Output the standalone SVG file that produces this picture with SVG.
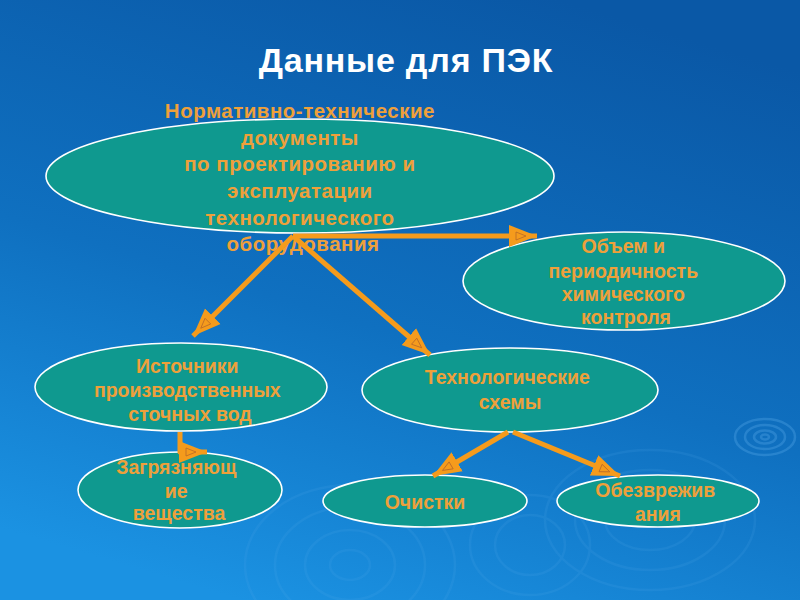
<svg xmlns="http://www.w3.org/2000/svg" width="800" height="600" viewBox="0 0 800 600">
  <defs>
    <linearGradient id="bg" x1="0.7" y1="0" x2="0.3" y2="1">
      <stop offset="0" stop-color="#0a58a6"/>
      <stop offset="0.55" stop-color="#0f70c0"/>
      <stop offset="1" stop-color="#1b92e2"/>
    </linearGradient>
    <marker id="ah" markerUnits="userSpaceOnUse" markerWidth="30" markerHeight="24" viewBox="0 0 30 24" refX="28" refY="12" orient="auto">
      <path d="M0,1 L28,12 L0,23 z" fill="#f59b1c"/>
      <path d="M7,8 L17,12 L7,16 z" fill="none" stroke="#b86a28" stroke-width="0.8"/>
    </marker>
    <style>
      .node ellipse { fill: #0f998f; stroke: #ffffff; stroke-width: 1.6; }
      .node text { font-family: "Liberation Sans", Arial, sans-serif; font-weight: bold; font-size: 19.5px; fill: #eea03a; text-anchor: middle; }
      .conn path { fill: none; stroke: #f59b1c; stroke-width: 5; stroke-linejoin: round; marker-end: url(#ah); }
      .rip { fill: none; stroke: #5fb0ee; stroke-width: 2.5; }
      .title { font-family: "Liberation Sans", Arial, sans-serif; font-weight: bold; font-size: 34px; letter-spacing: 0.8px; text-anchor: middle; fill: #ffffff; }
    </style>
  </defs>

  <rect x="0" y="0" width="800" height="600" fill="url(#bg)"/>

  <g id="ripples">
    <g class="rip" opacity="0.3">
      <ellipse cx="765" cy="437" rx="30" ry="18"/>
      <ellipse cx="765" cy="437" rx="20" ry="12"/>
      <ellipse cx="765" cy="437" rx="11" ry="6.5"/>
      <ellipse cx="765" cy="437" rx="4" ry="2.5"/>
    </g>
    <g class="rip" opacity="0.12">
      <ellipse cx="350" cy="565" rx="105" ry="80"/>
      <ellipse cx="350" cy="565" rx="75" ry="58"/>
      <ellipse cx="350" cy="565" rx="45" ry="35"/>
      <ellipse cx="350" cy="565" rx="20" ry="15"/>
      <ellipse cx="530" cy="545" rx="60" ry="50"/>
      <ellipse cx="530" cy="545" rx="35" ry="30"/>
      <ellipse cx="650" cy="520" rx="105" ry="70"/>
      <ellipse cx="650" cy="520" rx="75" ry="50"/>
      <ellipse cx="650" cy="520" rx="45" ry="30"/>
    </g>
  </g>

  <text class="title" x="406" y="72">Данные для ПЭК</text>

  <g id="n-normdocs" class="node">
    <ellipse cx="300" cy="176" rx="254" ry="57"/>
    <text style="font-size:20.5px;letter-spacing:0.5px">
      <tspan x="303" y="118">Нормативно-технические</tspan>
      <tspan x="303" y="145">документы</tspan>
      <tspan x="303" y="171">по проектированию и</tspan>
      <tspan x="303" y="198">эксплуатации</tspan>
      <tspan x="303" y="225">технологического</tspan>
      <tspan x="303" y="251">оборудования</tspan>
    </text>
  </g>

  <g id="n-volume" class="node">
    <ellipse cx="624" cy="281" rx="161" ry="49"/>
    <text>
      <tspan x="626" y="253">Объем и</tspan>
      <tspan x="626" y="278">периодичность</tspan>
      <tspan x="626" y="301">химического</tspan>
      <tspan x="626" y="324">контроля</tspan>
    </text>
  </g>

  <g id="n-sources" class="node">
    <ellipse cx="181" cy="387" rx="146" ry="44"/>
    <text>
      <tspan x="190" y="373">Источники</tspan>
      <tspan x="190" y="397">производственных</tspan>
      <tspan x="190" y="421">сточных вод</tspan>
    </text>
  </g>

  <g id="n-schemes" class="node">
    <ellipse cx="510" cy="390" rx="148" ry="42"/>
    <text>
      <tspan x="510" y="384">Технологические</tspan>
      <tspan x="510" y="409">схемы</tspan>
    </text>
  </g>

  <g id="n-pollutants" class="node">
    <ellipse cx="180" cy="490" rx="102" ry="38"/>
    <text>
      <tspan x="179" y="474">Загрязняющ</tspan>
      <tspan x="179" y="498">ие</tspan>
      <tspan x="179" y="520">вещества</tspan>
    </text>
  </g>

  <g id="n-cleaning" class="node">
    <ellipse cx="425" cy="501" rx="102" ry="26"/>
    <text>
      <tspan x="425" y="509">Очистки</tspan>
    </text>
  </g>

  <g id="n-neutral" class="node">
    <ellipse cx="658" cy="501" rx="101" ry="26"/>
    <text>
      <tspan x="658" y="497">Обезврежив</tspan>
      <tspan x="658" y="521">ания</tspan>
    </text>
  </g>

  <g id="connectors" class="conn">
    <path d="M293,236 L537,236"/>
    <path d="M293,236 L193,336"/>
    <path d="M293,236 L430,355"/>
    <path d="M508,432 L433,476"/>
    <path d="M513,432 L620,476"/>
    <path d="M180,432 V452 H207"/>
  </g>
</svg>
